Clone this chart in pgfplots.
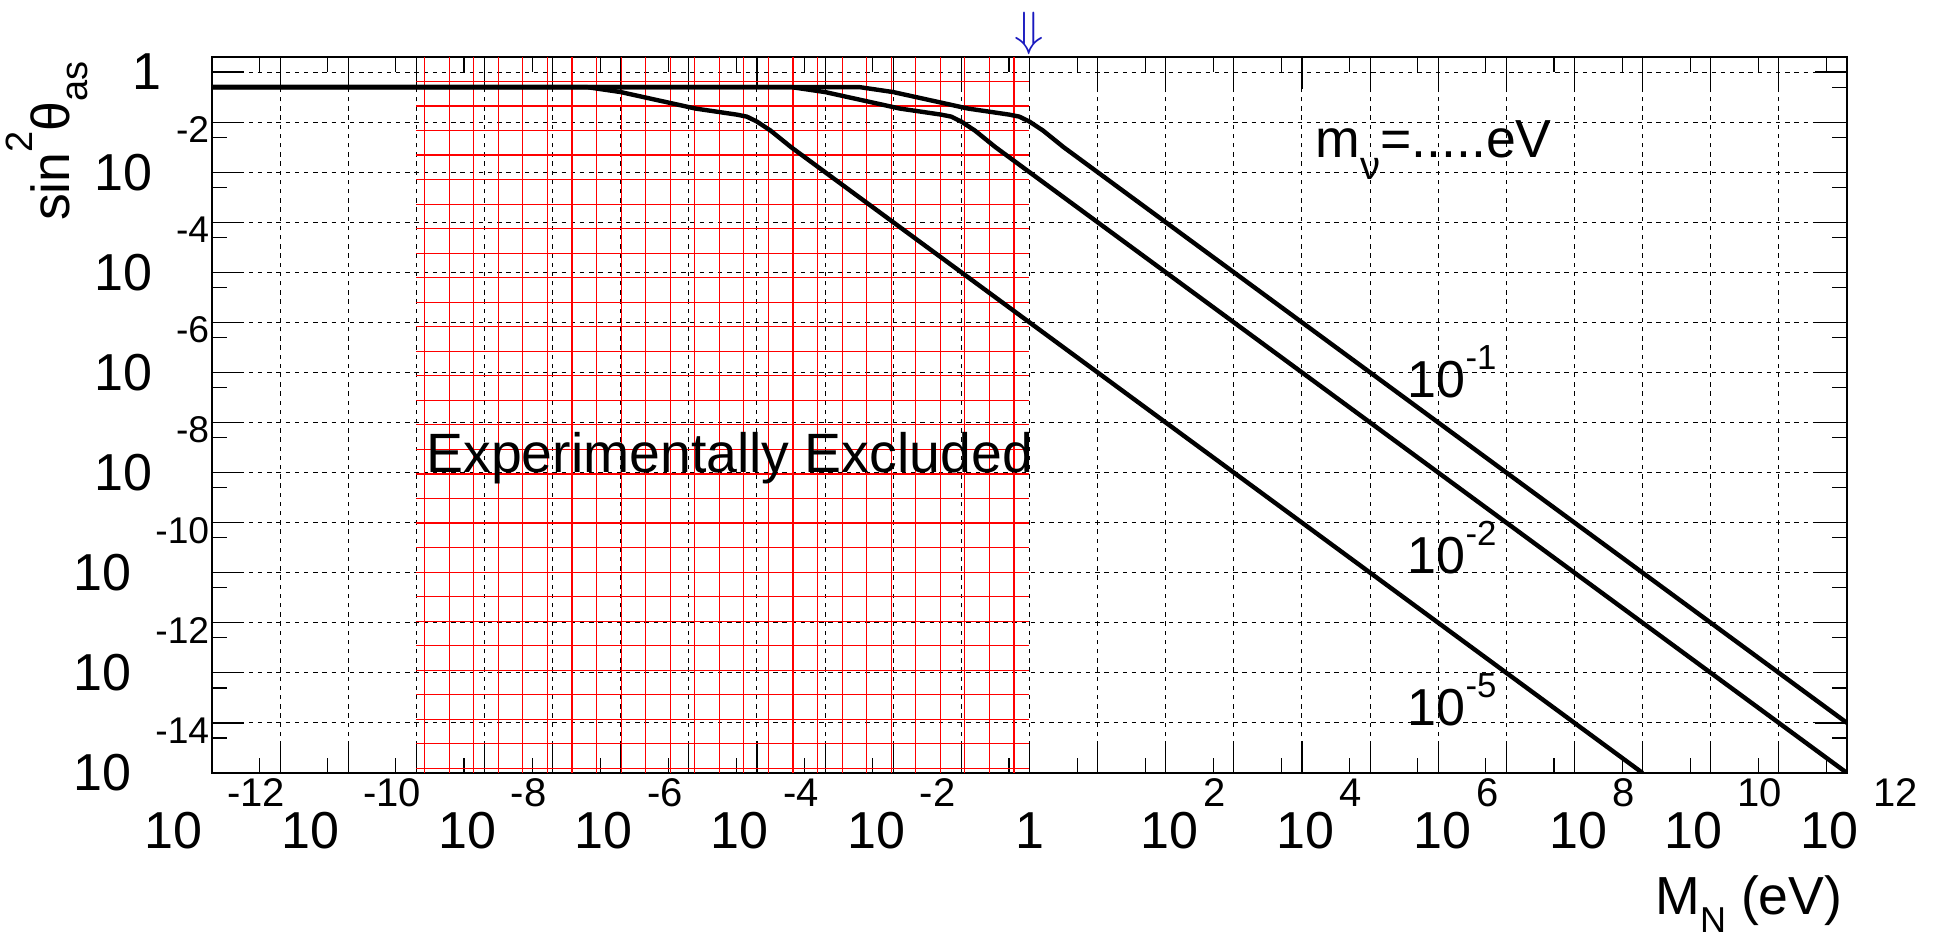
\documentclass[border=0pt]{standalone}
\usepackage{fontspec}
\setmainfont{Liberation Sans}
\usepackage{pgfplots}
\pgfplotsset{compat=1.18}

\definecolor{arrowblue}{rgb}{0.1,0.1,0.75}

% ROOT-like log labels: base 10 with a large raised exponent
% #1 exponent, #2 number of characters in it (ROOT centres on that)
\newcommand{\xl}[2]{\makebox[\dimexpr 2pt+10.5pt*#2\relax][l]{\fontsize{13}{13}\selectfont 10\hspace{\dimexpr 2.4pt*#2-1.15pt\relax}\raisebox{10.5pt}{\fontsize{10}{10}\selectfont #1}}}
\newcommand{\xone}{\fontsize{13}{13}\selectfont 1\raisebox{10.5pt}{\fontsize{10}{10}\selectfont\vphantom{1}}}
\newcommand{\yl}[1]{\fontsize{13}{13}\selectfont 10\hspace{6pt}\smash{\raisebox{11.9pt}{\fontsize{9.3}{9.3}\selectfont #1}}}
\newcommand{\yone}{\fontsize{13}{13}\selectfont 1\kern12pt}
\newcommand{\lab}[1]{\fontsize{13}{13}\selectfont 10\raisebox{7pt}{\fontsize{8.7}{8.7}\selectfont #1}}

\begin{document}
\begin{tikzpicture}
\path[use as bounding box] (-53pt,-41.25pt) rectangle (434pt,193.25pt);
\begin{axis}[
  at={(0,0)}, anchor=south west,
  scale only axis, width=408.75pt, height=179pt,
  xmode=log, ymode=log,
  xmin=1e-12, xmax=1e12, ymin=1e-14, ymax=2,
  xtick={1e-12,1e-11,1e-10,1e-9,1e-8,1e-7,1e-6,1e-5,1e-4,1e-3,1e-2,1e-1,1,1e1,1e2,1e3,1e4,1e5,1e6,1e7,1e8,1e9,1e10,1e11,1e12},
  xticklabels={\xl{-12}{3},{},\xl{-10}{3},{},\xl{-8}{2},{},\xl{-6}{2},{},\xl{-4}{2},{},\xl{-2}{2},{},\xone,{},\xl{2}{1},{},\xl{4}{1},{},\xl{6}{1},{},\xl{8}{1},{},\xl{10}{2},{},\xl{12}{2}},
  minor xtick={5e-12,5e-11,5e-10,5e-9,5e-8,5e-7,5e-6,5e-5,5e-4,5e-3,5e-2,5e-1,5,5e1,5e2,5e3,5e4,5e5,5e6,5e7,5e8,5e9,5e10,5e11},
  ytick={1e-14,1e-13,1e-12,1e-11,1e-10,1e-9,1e-8,1e-7,1e-6,1e-5,1e-4,1e-3,1e-2,1e-1,1},
  yticklabels={\yl{-14},{},\yl{-12},{},\yl{-10},{},\yl{-8},{},\yl{-6},{},\yl{-4},{},\yl{-2},{},\yone},
  minor ytick={5e-14,5e-13,5e-12,5e-11,5e-10,5e-9,5e-8,5e-7,5e-6,5e-5,5e-4,5e-3,5e-2,5e-1},
  xtick pos=both, ytick pos=both,
  tick align=inside,
  major tick length=8pt, minor tick length=3.75pt,
  every tick/.append style={black, line width=0.3pt},
  axis line style={line width=0.45pt},
  grid=major,
  major grid style={black, line width=0.25pt, dash pattern=on 1.1pt off 1.2pt},
  xticklabel style={anchor=north, inner sep=0pt, yshift=-1.25pt},
  yticklabel style={anchor=east, inner sep=0pt, xshift=-0.5pt},
  xlabel={M\raisebox{-4.5pt}{\fontsize{9}{9}\selectfont N} (eV)},
  xlabel style={at={(axis description cs:0.9976,-0.1983)}, anchor=base east, inner sep=0pt, font=\fontsize{13.4}{13.4}\selectfont},
  ylabel={sin\raisebox{9.25pt}{\fontsize{9.5}{9.5}\selectfont 2}θ\raisebox{-4.5pt}{\fontsize{9.5}{9.5}\selectfont as}},
  ylabel style={at={(axis description cs:-0.0869,0.995)}, anchor=base east, inner sep=0pt, font=\fontsize{13.4}{13.4}\selectfont},
  unbounded coords=jump,
  every axis plot/.append style={line join=round},
]
% experimentally excluded region: hatched box 1e-9 < M_N < 1 eV
\addplot[red, line width=0.28pt] coordinates {
  (1.324e-9,1e-14) (1.324e-9,2) (nan,nan) (3.034e-9,1e-14) (3.034e-9,2) (nan,nan)
  (6.966e-9,1e-14) (6.966e-9,2) (nan,nan) (1.596e-8,1e-14) (1.596e-8,2) (nan,nan)
  (3.664e-8,1e-14) (3.664e-8,2) (nan,nan) (8.395e-8,1e-14) (8.395e-8,2) (nan,nan)
  (1.923e-7,1e-14) (1.923e-7,2) (nan,nan) (4.416e-7,1e-14) (4.416e-7,2) (nan,nan)
  (1.012e-6,1e-14) (1.012e-6,2) (nan,nan) (2.323e-6,1e-14) (2.323e-6,2) (nan,nan)
  (5.321e-6,1e-14) (5.321e-6,2) (nan,nan) (1.219e-5,1e-14) (1.219e-5,2) (nan,nan)
  (2.799e-5,1e-14) (2.799e-5,2) (nan,nan) (6.412e-5,1e-14) (6.412e-5,2) (nan,nan)
  (1.472e-4,1e-14) (1.472e-4,2) (nan,nan) (3.373e-4,1e-14) (3.373e-4,2) (nan,nan)
  (7.727e-4,1e-14) (7.727e-4,2) (nan,nan) (1.774e-3,1e-14) (1.774e-3,2) (nan,nan)
  (4.064e-3,1e-14) (4.064e-3,2) (nan,nan) (9.333e-3,1e-14) (9.333e-3,2) (nan,nan)
  (2.138e-2,1e-14) (2.138e-2,2) (nan,nan) (4.898e-2,1e-14) (4.898e-2,2) (nan,nan)
  (0.1125,1e-14) (0.1125,2) (nan,nan) (0.2576,1e-14) (0.2576,2) (nan,nan)
  (0.5916,1e-14) (0.5916,2)};
\addplot[red, line width=0.28pt] coordinates {
  (1e-9,0.6486) (1,0.6486) (nan,nan) (1e-9,0.2099) (1,0.2099) (nan,nan)
  (1e-9,6.792e-2) (1,6.792e-2) (nan,nan) (1e-9,2.198e-2) (1,2.198e-2) (nan,nan)
  (1e-9,7.112e-3) (1,7.112e-3) (nan,nan) (1e-9,2.301e-3) (1,2.301e-3) (nan,nan)
  (1e-9,7.447e-4) (1,7.447e-4) (nan,nan) (1e-9,2.410e-4) (1,2.410e-4) (nan,nan)
  (1e-9,7.798e-5) (1,7.798e-5) (nan,nan) (1e-9,2.523e-5) (1,2.523e-5) (nan,nan)
  (1e-9,8.166e-6) (1,8.166e-6) (nan,nan) (1e-9,2.642e-6) (1,2.642e-6) (nan,nan)
  (1e-9,8.551e-7) (1,8.551e-7) (nan,nan) (1e-9,2.767e-7) (1,2.767e-7) (nan,nan)
  (1e-9,8.954e-8) (1,8.954e-8) (nan,nan) (1e-9,2.897e-8) (1,2.897e-8) (nan,nan)
  (1e-9,9.376e-9) (1,9.376e-9) (nan,nan) (1e-9,3.034e-9) (1,3.034e-9) (nan,nan)
  (1e-9,9.817e-10) (1,9.817e-10) (nan,nan) (1e-9,3.177e-10) (1,3.177e-10) (nan,nan)
  (1e-9,1.028e-10) (1,1.028e-10) (nan,nan) (1e-9,3.327e-11) (1,3.327e-11) (nan,nan)
  (1e-9,1.076e-11) (1,1.076e-11) (nan,nan) (1e-9,3.483e-12) (1,3.483e-12) (nan,nan)
  (1e-9,1.127e-12) (1,1.127e-12) (nan,nan) (1e-9,3.648e-13) (1,3.648e-13) (nan,nan)
  (1e-9,1.180e-13) (1,1.180e-13) (nan,nan) (1e-9,3.819e-14) (1,3.819e-14) (nan,nan)
  (1e-9,1.236e-14) (1,1.236e-14)};

% m_nu = 1e-1 eV
\addplot[black, line width=1.1pt] coordinates {
  (1e-12,0.501) (3.162e-3,0.501) (1e-2,0.398) (5.012e-2,0.2455) (0.1259,0.1862)
  (0.5012,0.1413) (0.7079,0.1288) (1,0.1023) (1.585,0.0676) (3.162,0.03162) (1e12,1e-13)};
% m_nu = 1e-2 eV
\addplot[black, line width=1.1pt] coordinates {
  (1e-12,0.501) (3.162e-4,0.501) (1e-3,0.398) (5.012e-3,0.2455) (1.259e-2,0.1862)
  (5.012e-2,0.1413) (7.079e-2,0.1288) (0.1,0.1023) (0.1585,0.0676) (0.3162,0.03162) (1e12,1e-14)};
% m_nu = 1e-5 eV
\addplot[black, line width=1.1pt] coordinates {
  (1e-12,0.501) (3.162e-7,0.501) (1e-6,0.398) (5.012e-6,0.2455) (1.259e-5,0.1862)
  (5.012e-5,0.1413) (7.079e-5,0.1288) (1e-4,0.1023) (1.585e-4,0.0676) (3.162e-4,0.03162) (1e9,1e-14)};

\node[anchor=base west, inner sep=0pt, font=\fontsize{13.85}{13.85}\selectfont] at (axis cs:1.366e-9,1e-8) {Experimentally Excluded};
\node[anchor=base west, inner sep=0pt, font=\fontsize{13.4}{13.4}\selectfont] at (axis cs:1.549e4,1.95e-2) {m\raisebox{-5.5pt}{\fontsize{10}{10}\selectfont ν}=.....eV};
\node[anchor=base west, inner sep=0pt] at (axis cs:3.467e5,3.09e-7) {\lab{-1}};
\node[anchor=base west, inner sep=0pt] at (axis cs:3.467e5,9.77e-11) {\lab{-2}};
\node[anchor=base west, inner sep=0pt] at (axis cs:3.467e5,8.91e-14) {\lab{-5}};
\coordinate (arr) at (axis cs:1,2);
\end{axis}
\node[anchor=south, inner sep=0pt, yshift=0.4pt, text=arrowblue, font=\fontsize{13}{13}\selectfont] at (arr) {$\Downarrow$};
\end{tikzpicture}
\end{document}
